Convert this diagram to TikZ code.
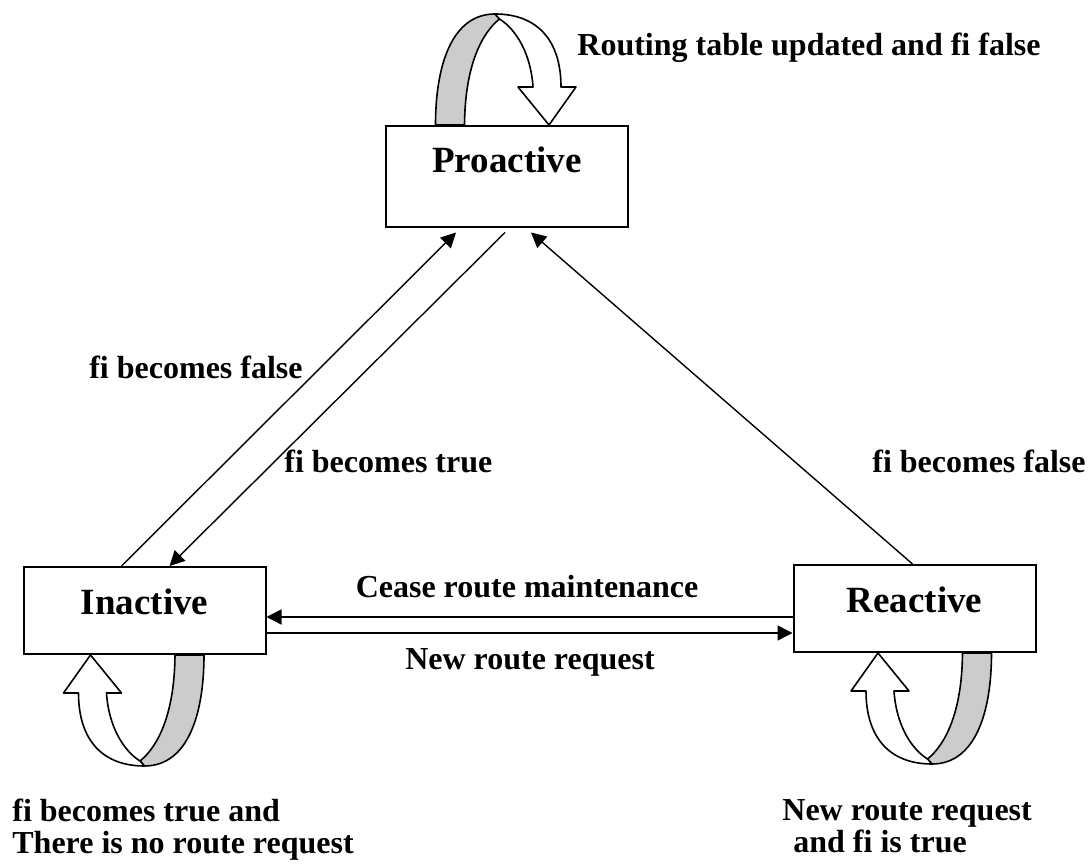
\documentclass[tikz,border=0pt]{standalone}
\usepackage{fontspec}
\setmainfont{Liberation Serif}
\usetikzlibrary{arrows.meta,calc}
\definecolor{bandgray}{HTML}{CCCCCC}

\begin{document}
\begin{tikzpicture}[x=0.5pt, y=-0.5pt,
  st/.style={draw, line width=1pt, inner sep=0pt, minimum width=121pt, text height=23.5pt, text depth=#1, font=\fontsize{18.5}{22}\selectfont\bfseries},
  lbl/.style={inner sep=0pt, font=\fontsize{16}{16}\selectfont\bfseries},
  arr/.style={-{Triangle[length=7.5pt,width=7.5pt]}, line width=0.7pt},
  band/.style={line width=0.8pt, line join=round}
]
  \useasboundingbox (0,0) rectangle (1092,865);
  \node[st=27pt] (pro) at (507,176.5) {Proactive};
  \node[st=20pt] (inact) at (144.5,610.5) {Inactive};
  \node[st=20pt] (react) at (914.5,608.5) {Reactive};
  % self loops (twisted ribbon arrows)
  \foreach \nd/\dx/\rot in {pro.north/40/180, inact.south/-52/0, react.south/-34.5/0}{
    \begin{scope}[shift={($(\nd)+(\dx,0)$)}, rotate=\rot]
      \filldraw[band, fill=bandgray] (82.5,0) .. controls (82,60) and (65,92) .. (47.5,106) -- (52,111) .. controls (95,111) and (111.5,60) .. (111.5,0) -- cycle;
      \filldraw[band, fill=white] (-2,0) -- (29,38) -- (14,38) .. controls (16,70) and (30,95) .. (47.5,106) -- (52,111) .. controls (10,111) and (-14,85) .. (-14,38) -- (-29,38) -- cycle;
    \end{scope}
  }
  \draw[arr] ($(inact.north west)+(99,0)$) -- ($(pro.south west)+(71,4.5)$);
  \draw[arr] ($(pro.south west)+(120,4.5)$) -- ($(inact.north west)+(147,0)$);
  \draw[arr] ($(react.north west)+(120,0)$) -- ($(pro.south west)+(146,4.5)$);
  \draw[arr] ($(react.west)+(0,8.5)$) -- ($(inact.east)+(0,6.5)$);
  \draw[arr] ($(inact.east)+(0,22.5)$) -- ($(react.west)+(0,24.5)$);
  % labels
  \node[lbl, anchor=base west] (rt) at (577,56) {Routing table updated and fi false};
  \node[lbl, anchor=base east] (fl1) at (303,379) {fi becomes false};
  \node[lbl, anchor=base west] (tr1) at (284,473) {fi becomes true};
  \node[lbl, anchor=base east] (fl2) at (1086,473) {fi becomes false};
  \node[lbl, anchor=base] (cease) at (527,597) {Cease route maintenance};
  \node[lbl, anchor=base] (nrr) at (530,669) {New route request};
  \node[lbl, anchor=north west, align=left] (bl) at (12,799) {fi becomes true and\\There is no route request};
  \node[lbl, anchor=north west, align=left] (br) at (782,799) {New route request\\\hspace*{5.5pt}and fi is true};
\end{tikzpicture}
\end{document}
